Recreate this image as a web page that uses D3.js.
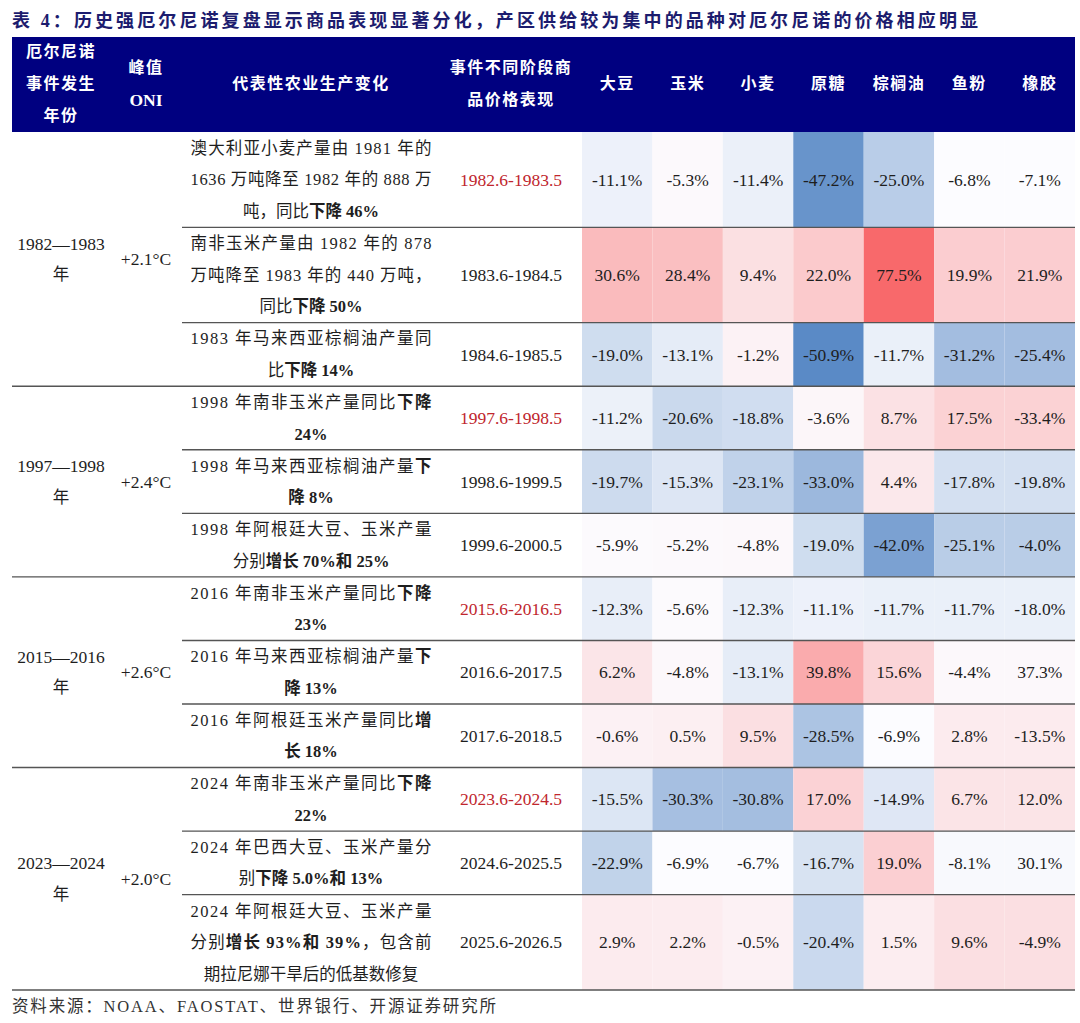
<!doctype html>
<html>
<head>
<meta charset="utf-8">
<script src="https://cdn.jsdelivr.net/npm/d3@7"></script>
<style>
  body { margin: 0; background: #fff; }
  text { font-family: "Liberation Serif", "Noto Sans CJK SC", serif; }
</style>
</head>
<body>
<script>
var commodities = ["大豆", "玉米", "小麦", "原糖", "棕榈油", "鱼粉", "橡胶"];

var eventYears = ["1982—1983", "1997—1998", "2015—2016", "2023—2024"];
var peakOni = ["+2.1°C", "+2.4°C", "+2.6°C", "+2.0°C"];
var eventOfRow = [0, 0, 0, 1, 1, 1, 2, 2, 2, 3, 3, 3];

var periods = ["1982.6-1983.5", "1983.6-1984.5", "1984.6-1985.5",
               "1997.6-1998.5", "1998.6-1999.5", "1999.6-2000.5",
               "2015.6-2016.5", "2016.6-2017.5", "2017.6-2018.5",
               "2023.6-2024.5", "2024.6-2025.5", "2025.6-2026.5"];

// ** marks the bold part of a line
var descriptions = [
  ["澳大利亚小麦产量由 1981 年的", "1636 万吨降至 1982 年的 888 万", "吨，同比**下降 46%**"],
  ["南非玉米产量由 1982 年的 878", "万吨降至 1983 年的 440 万吨，", "同比**下降 50%**"],
  ["1983 年马来西亚棕榈油产量同", "比**下降 14%**"],
  ["1998 年南非玉米产量同比**下降**", "**24%**"],
  ["1998 年马来西亚棕榈油产量**下**", "**降 8%**"],
  ["1998 年阿根廷大豆、玉米产量", "分别**增长 70%和 25%**"],
  ["2016 年南非玉米产量同比**下降**", "**23%**"],
  ["2016 年马来西亚棕榈油产量**下**", "**降 13%**"],
  ["2016 年阿根廷玉米产量同比**增**", "**长 18%**"],
  ["2024 年南非玉米产量同比**下降**", "**22%**"],
  ["2024 年巴西大豆、玉米产量分", "别**下降 5.0%和 13%**"],
  ["2024 年阿根廷大豆、玉米产量", "分别**增长 93%和 39%**，包含前", "期拉尼娜干旱后的低基数修复"]
];

var soybean  = [-11.1, 30.6, -19.0, -11.2, -19.7, -5.9, -12.3, 6.2, -0.6, -15.5, -22.9, 2.9];
var corn     = [-5.3, 28.4, -13.1, -20.6, -15.3, -5.2, -5.6, -4.8, 0.5, -30.3, -6.9, 2.2];
var wheat    = [-11.4, 9.4, -1.2, -18.8, -23.1, -4.8, -12.3, -13.1, 9.5, -30.8, -6.7, -0.5];
var sugar    = [-47.2, 22.0, -50.9, -3.6, -33.0, -19.0, -11.1, 39.8, -28.5, 17.0, -16.7, -20.4];
var palmOil  = [-25.0, 77.5, -11.7, 8.7, 4.4, -42.0, -11.7, 15.6, -6.9, -14.9, 19.0, 1.5];
var fishmeal = [-6.8, 19.9, -31.2, 17.5, -17.8, -25.1, -11.7, -4.4, 2.8, 6.7, -8.1, 9.6];
var rubber   = [-7.1, 21.9, -25.4, -33.4, -19.8, -4.0, -18.0, 37.3, -13.5, 12.0, 30.1, -4.9];

var series = [soybean, corn, wheat, sugar, palmOil, fishmeal, rubber];
// in the source sheet the rubber column carries the fish-meal shading
var shadeSeries = [soybean, corn, wheat, sugar, palmOil, fishmeal, fishmeal];

// ---- layout ----
var W = 1080, H = 1023;
var left = 12, right = 1075;
var headTop = 37, headBottom = 132, tableBottom = 990;
var descLeft = 182, descMid = 311, descWidth = 241;
var yearMid = 61, oniMid = 146, periodMid = 511, valueLeft = 582;
var lineGap = 31.6;
var ink = "#1e1e1e";
var numSize = 17.5;

var svg = d3.select("body").append("svg")
  .attr("width", W)
  .attr("height", H);

// row extents measured in text lines
var rowLines = descriptions.map(function(d) { return d.length; });
var rowStart = [];
var acc = 0;
rowLines.forEach(function(n) { rowStart.push(acc); acc += n; });
var totalLines = acc;

var y = d3.scaleLinear().domain([0, totalLines]).range([headBottom, tableBottom]);
var x = d3.scaleBand().domain(commodities).range([valueLeft, right]);

var allValues = d3.merge(series);
var color = d3.scaleLinear()
  .domain([d3.min(allValues), d3.median(allValues), d3.max(allValues)])
  .range(["#5A8AC6", "#FCFCFF", "#F8696B"]);

// title
svg.append("text")
  .attr("x", left)
  .attr("y", 27)
  .attr("font-size", 18)
  .attr("font-weight", "bold")
  .attr("fill", "#1c1c6e")
  .attr("textLength", 966)
  .attr("lengthAdjust", "spacing")
  .text("表 4：历史强厄尔尼诺复盘显示商品表现显著分化，产区供给较为集中的品种对厄尔尼诺的价格相应明显");

// header band
svg.append("rect")
  .attr("x", left).attr("y", headTop)
  .attr("width", right - left).attr("height", headBottom - headTop)
  .attr("fill", "#000080");

var headMid = (headTop + headBottom) / 2 - 1;
var headCols = [
  { x: yearMid, lines: ["厄尔尼诺", "事件发生", "年份"] },
  { x: oniMid, lines: ["峰值", "ONI"] },
  { x: descMid, lines: ["代表性农业生产变化"] },
  { x: periodMid, lines: ["事件不同阶段商", "品价格表现"] }
].concat(commodities.map(function(c) {
  return { x: x(c) + x.bandwidth() / 2, lines: [c] };
}));

headCols.forEach(function(col) {
  var n = col.lines.length;
  svg.append("g").selectAll("text")
    .data(col.lines)
    .enter()
    .append("text")
    .attr("x", col.x)
    .attr("y", function(d, i) { return headMid + (i - (n - 1) / 2) * 32; })
    .attr("dy", "0.36em")
    .attr("text-anchor", "middle")
    .attr("font-size", function(d) { return d === "ONI" ? 17.5 : 16; })
    .attr("font-weight", "bold")
    .attr("letter-spacing", function(d) { return d === "ONI" ? 0 : 1.5; })
    .attr("fill", "#fff")
    .text(function(d) { return d; });
});

// heat cells
var cells = [];
periods.forEach(function(p, r) {
  commodities.forEach(function(c, j) {
    cells.push({ row: r, com: c, value: series[j][r], shade: shadeSeries[j][r] });
  });
});

svg.append("g").selectAll("rect")
  .data(cells)
  .enter()
  .append("rect")
  .attr("x", function(d) { return x(d.com); })
  .attr("y", function(d) { return y(rowStart[d.row]); })
  .attr("width", x.bandwidth())
  .attr("height", function(d) { return y(rowStart[d.row] + rowLines[d.row]) - y(rowStart[d.row]); })
  .attr("fill", function(d) { return color(d.shade); });

function rowMid(r) {
  return (y(rowStart[r]) + y(rowStart[r] + rowLines[r])) / 2;
}

svg.append("g").selectAll("text")
  .data(cells)
  .enter()
  .append("text")
  .attr("x", function(d) { return x(d.com) + x.bandwidth() / 2; })
  .attr("y", function(d) { return rowMid(d.row); })
  .attr("dy", "0.35em")
  .attr("text-anchor", "middle")
  .attr("font-size", numSize)
  .attr("fill", ink)
  .text(function(d) { return d.value.toFixed(1) + "%"; });

// period column, first period of each event in red
svg.append("g").selectAll("text")
  .data(periods)
  .enter()
  .append("text")
  .attr("x", periodMid)
  .attr("y", function(d, i) { return rowMid(i); })
  .attr("dy", "0.35em")
  .attr("text-anchor", "middle")
  .attr("font-size", numSize)
  .attr("fill", function(d, i) { return (i === 0 || eventOfRow[i] !== eventOfRow[i - 1]) ? "#c0262d" : ink; })
  .text(function(d) { return d; });

// description column
descriptions.forEach(function(lines, r) {
  var n = lines.length;
  var mid = rowMid(r);
  lines.forEach(function(line, i) {
    var t = svg.append("text")
      .attr("y", mid + (i - (n - 1) / 2) * lineGap)
      .attr("dy", "0.35em")
      .attr("font-size", 16.5)
      .attr("fill", ink);
    if (i < n - 1) {
      t.attr("x", descMid - descWidth / 2)
        .attr("text-anchor", "start")
        .attr("textLength", descWidth)
        .attr("lengthAdjust", "spacing");
    } else {
      t.attr("x", descMid).attr("text-anchor", "middle");
    }
    line.split("**").forEach(function(seg, k) {
      if (seg) t.append("tspan").attr("font-weight", k % 2 ? "bold" : "normal").text(seg);
    });
  });
});

// event year and ONI columns
eventYears.forEach(function(ev, g) {
  var rows = d3.range(periods.length).filter(function(r) { return eventOfRow[r] === g; });
  var first = rows[0], last = rows[rows.length - 1];
  var mid = (y(rowStart[first]) + y(rowStart[last] + rowLines[last])) / 2;
  [ev, "年"].forEach(function(s, i) {
    svg.append("text")
      .attr("x", yearMid)
      .attr("y", mid + (i - 0.5) * 31)
      .attr("dy", "0.35em")
      .attr("text-anchor", "middle")
      .attr("font-size", i === 0 ? numSize : 16.5)
      .attr("fill", ink)
      .text(s);
  });
  svg.append("text")
    .attr("x", oniMid)
    .attr("y", mid)
    .attr("dy", "0.35em")
    .attr("text-anchor", "middle")
    .attr("font-size", numSize)
    .attr("fill", ink)
    .text(peakOni[g]);
});

// row rules: full width between events, from the description column inside
svg.append("g").selectAll("line")
  .data(periods)
  .enter()
  .append("line")
  .attr("x1", function(d, i) {
    return (i === periods.length - 1 || eventOfRow[i] !== eventOfRow[i + 1]) ? left : descLeft;
  })
  .attr("x2", right)
  .attr("y1", function(d, i) { return y(rowStart[i] + rowLines[i]); })
  .attr("y2", function(d, i) { return y(rowStart[i] + rowLines[i]); })
  .attr("stroke", "#555")
  .attr("stroke-width", 1.4);

// source
svg.append("text")
  .attr("x", left)
  .attr("y", 1006)
  .attr("dy", "0.35em")
  .attr("font-size", 16.5)
  .attr("fill", "#333")
  .attr("textLength", 484)
  .attr("lengthAdjust", "spacing")
  .text("资料来源：NOAA、FAOSTAT、世界银行、开源证券研究所");
</script>
</body>
</html>
